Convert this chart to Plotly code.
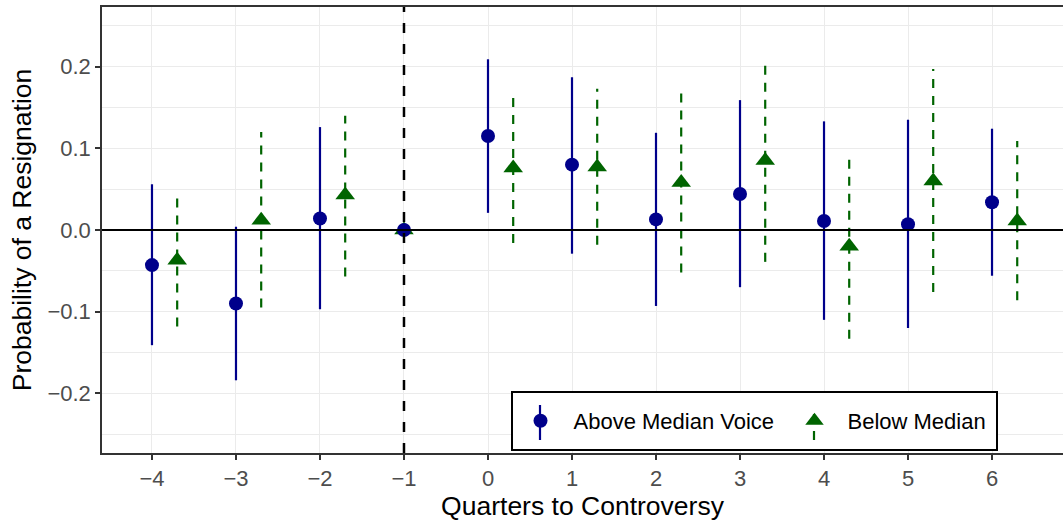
import plotly.graph_objects as go

# ---- data ----
quarters = [-4, -3, -2, -1, 0, 1, 2, 3, 4, 5, 6]
above_est = [-0.043, -0.090, 0.014, 0.000, 0.115, 0.080, 0.013, 0.044, 0.011, 0.007, 0.034]
above_lo = [-0.141, -0.184, -0.097, 0.000, 0.021, -0.029, -0.093, -0.070, -0.110, -0.120, -0.056]
above_hi = [0.056, 0.004, 0.126, 0.000, 0.209, 0.187, 0.119, 0.159, 0.133, 0.135, 0.124]
below_est = [-0.037, 0.012, 0.043, 0.000, 0.076, 0.077, 0.058, 0.085, -0.020, 0.060, 0.011]
below_lo = [-0.118, -0.095, -0.057, 0.000, -0.016, -0.018, -0.052, -0.039, -0.133, -0.076, -0.086]
below_hi = [0.046, 0.120, 0.140, 0.000, 0.167, 0.173, 0.169, 0.209, 0.091, 0.197, 0.109]
x_ticks = [-4, -3, -2, -1, 0, 1, 2, 3, 4, 5, 6]
y_ticks = [-0.2, -0.1, 0.0, 0.1, 0.2]
reference_quarter = -1
series_names = ["Above Median Voice", "Below Median"]

BLUE = "#00008B"
GREEN = "#006400"
DODGE = 0.3
FONT = "Liberation Sans, Arial, sans-serif"

below_x = [q + (0 if q == reference_quarter else DODGE) for q in quarters]

fig = go.Figure()

# dashed CI segments for the "below" series
cx, cy = [], []
for x, lo, hi in zip(below_x, below_lo, below_hi):
    if hi > lo:
        cx += [x, x, None]
        cy += [lo, hi, None]
fig.add_trace(go.Scatter(x=cx, y=cy, mode="lines",
                         line=dict(color=GREEN, width=2.2, dash="9px,8px"),
                         showlegend=False, hoverinfo="skip"))
fig.add_trace(go.Scatter(x=below_x, y=below_est, mode="markers", name=series_names[1],
                         legendwidth=150,
                         marker=dict(symbol="triangle-up", size=17, color=GREEN)))

# solid CI segments for the "above" series
ax, ay = [], []
for x, lo, hi in zip(quarters, above_lo, above_hi):
    if hi > lo:
        ax += [x, x, None]
        ay += [lo, hi, None]
fig.add_trace(go.Scatter(x=ax, y=ay, mode="lines",
                         line=dict(color=BLUE, width=2.2),
                         showlegend=False, hoverinfo="skip"))
fig.add_trace(go.Scatter(x=quarters, y=above_est, mode="markers", name=series_names[0],
                         legendwidth=203,
                         marker=dict(symbol="circle", size=14, color=BLUE)))

fig.add_hline(y=0, line=dict(color="black", width=2))
fig.add_vline(x=reference_quarter, line=dict(color="black", width=2.5, dash="10px,11px"))

# legend frame and key lines (layout decoration, paper coordinates)
L, T, PW, PH = 102, 7, 961, 446
def px(xp): return (xp - L) / PW
def py(yp): return (T + PH - yp) / PH
fig.add_shape(type="rect", xref="paper", yref="paper", x0=px(512), x1=px(997), y0=py(450), y1=py(392),
              line=dict(color="black", width=2), fillcolor="white", layer="above")
fig.add_shape(type="line", xref="paper", yref="paper", x0=px(540), x1=px(540), y0=py(440), y1=py(405),
              line=dict(color=BLUE, width=2.2), layer="above")
fig.add_shape(type="line", xref="paper", yref="paper", x0=px(814), x1=px(814), y0=py(440), y1=py(407),
              line=dict(color=GREEN, width=2.2, dash="9px,8px"), layer="above")

axis_common = dict(
    showline=True, mirror=True, linecolor="#333333", linewidth=1.5,
    ticks="outside", ticklen=5, tickwidth=1.5, tickcolor="#333333",
    showgrid=True, gridcolor="#EBEBEB", gridwidth=1.1, zeroline=False,
    tickfont=dict(family=FONT, size=22, color="#4D4D4D"),
)

fig.update_layout(
    width=1063, height=522,
    margin=dict(l=102, r=0, t=7, b=69, autoexpand=False),
    paper_bgcolor="white", plot_bgcolor="white",
    font=dict(family=FONT, color="black"),
    xaxis=dict(axis_common, range=[-4.595, 6.845], tickvals=x_ticks,
               title=dict(text="Quarters to Controversy", font=dict(size=26.5), standoff=4)),
    yaxis=dict(axis_common, range=[-0.273, 0.273], tickvals=y_ticks, tickformat=".1f",
               minor=dict(dtick=0.05, tick0=0, showgrid=True, gridcolor="#EBEBEB", gridwidth=0.55),
               title=dict(text="Probability of a Resignation", font=dict(size=26.5), standoff=8)),
    legend=dict(orientation="h", x=px(507.5), xanchor="left", y=py(421), yanchor="middle",
                bgcolor="rgba(0,0,0,0)", borderwidth=0, itemwidth=56,
                font=dict(size=22, color="black"), traceorder="reversed"),
)

fig.write_html("out.html")
